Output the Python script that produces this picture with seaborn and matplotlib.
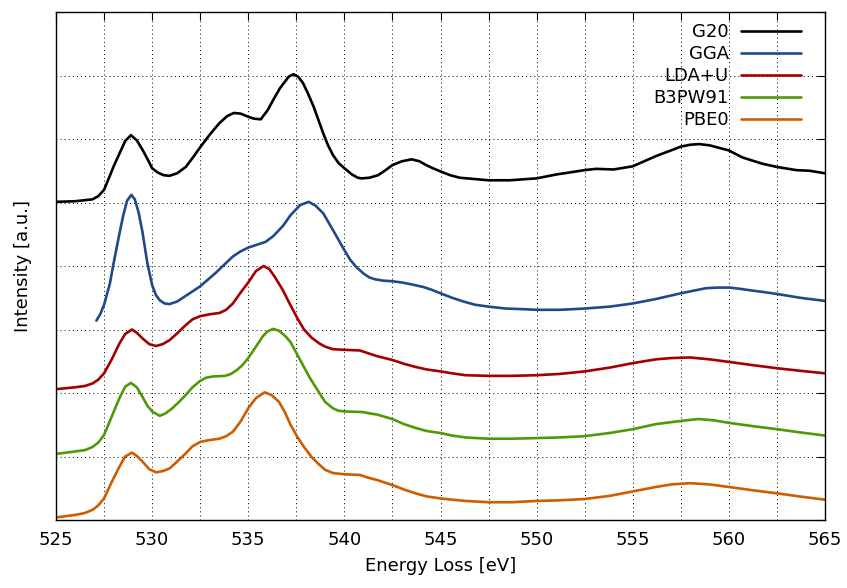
import numpy as np
import pandas as pd
import matplotlib
matplotlib.use("Agg")
import matplotlib.pyplot as plt
from matplotlib.ticker import MultipleLocator, NullFormatter
import seaborn as sns

# spectra (energy in eV, intensity in grid units, stacked)
g20_e = [525.0, 526.0, 526.9, 527.2, 527.5, 527.8, 528.0, 528.3, 528.6, 528.9, 529.2, 529.5,
         529.8, 530.0, 530.3, 530.6, 530.9, 531.3, 531.75, 532.1, 532.5, 533.0, 533.5, 533.9,
         534.25, 534.6, 535.0, 535.3, 535.65, 536.0, 536.4, 536.65, 536.9, 537.1, 537.35, 537.6,
         537.85, 538.1, 538.4, 538.9, 539.15, 539.4, 539.7, 540.0, 540.4, 540.7, 540.9, 541.3,
         541.75, 542.1, 542.5, 543.0, 543.5, 543.9, 544.25, 544.6, 545.0, 545.5, 546.0, 547.5,
         548.6, 550.0, 551.0, 552.5, 553.1, 554.0, 555.0, 556.2, 556.9, 557.5, 558.0, 558.45,
         559.0, 560.0, 560.7, 561.75, 562.5, 563.5, 564.2, 565.0]
g20_i = [5.01, 5.02, 5.05, 5.10, 5.20, 5.42, 5.57, 5.77, 5.97, 6.06, 5.98, 5.83,
         5.66, 5.54, 5.47, 5.43, 5.42, 5.46, 5.56, 5.70, 5.87, 6.07, 6.25, 6.36,
         6.41, 6.40, 6.35, 6.32, 6.31, 6.45, 6.67, 6.80, 6.90, 6.98, 7.02, 6.98,
         6.88, 6.72, 6.51, 6.09, 5.90, 5.75, 5.62, 5.54, 5.44, 5.39, 5.38, 5.39,
         5.43, 5.50, 5.59, 5.65, 5.68, 5.65, 5.59, 5.54, 5.49, 5.43, 5.39, 5.35,
         5.35, 5.38, 5.44, 5.51, 5.53, 5.52, 5.57, 5.73, 5.81, 5.88, 5.91, 5.92,
         5.90, 5.82, 5.71, 5.61, 5.56, 5.51, 5.50, 5.46]

gga_e = [527.1, 527.3, 527.5, 527.8, 528.0, 528.3, 528.5, 528.7, 528.92, 529.1, 529.3, 529.5,
         529.75, 530.0, 530.2, 530.4, 530.65, 530.9, 531.3, 531.75, 532.1, 532.5, 533.3, 533.75,
         534.2, 534.6, 535.0, 535.5, 535.9, 536.3, 536.8, 537.2, 537.7, 538.15, 538.5, 538.9,
         539.4, 539.7, 540.0, 540.3, 540.6, 541.0, 541.3, 541.6, 542.0, 542.5, 543.0, 543.5,
         544.1, 544.5, 545.0, 545.6, 546.2, 546.8, 547.5, 548.4, 549.3, 550.0, 551.2, 552.5,
         553.8, 555.0, 556.2, 557.5, 558.8, 559.4, 560.05, 560.6, 561.05, 561.8, 562.5, 563.7,
         565.0]
gga_i = [3.14, 3.24, 3.39, 3.72, 4.05, 4.51, 4.80, 5.03, 5.12, 5.05, 4.84, 4.53,
         4.05, 3.70, 3.54, 3.46, 3.41, 3.40, 3.44, 3.53, 3.60, 3.68, 3.89, 4.02,
         4.15, 4.23, 4.29, 4.34, 4.38, 4.47, 4.63, 4.80, 4.96, 5.01, 4.95, 4.83,
         4.57, 4.41, 4.25, 4.10, 3.99, 3.88, 3.82, 3.79, 3.77, 3.76, 3.74, 3.71,
         3.67, 3.63, 3.57, 3.50, 3.44, 3.39, 3.36, 3.33, 3.32, 3.31, 3.31, 3.33,
         3.36, 3.41, 3.48, 3.57, 3.65, 3.66, 3.66, 3.64, 3.62, 3.59, 3.56, 3.50,
         3.45]

lda_e = [525.0, 526.0, 526.5, 526.9, 527.2, 527.5, 527.9, 528.3, 528.6, 528.95, 529.2, 529.5,
         529.85, 530.2, 530.55, 530.9, 531.3, 531.75, 532.1, 532.5, 533.0, 533.5, 533.85, 534.2,
         534.6, 535.0, 535.4, 535.8, 536.1, 536.4, 536.8, 537.2, 537.55, 537.9, 538.3, 538.7,
         539.0, 539.4, 540.0, 540.8, 541.2, 541.7, 542.5, 543.1, 543.7, 544.3, 545.0, 545.6,
         546.3, 547.5, 548.7, 550.0, 551.2, 552.5, 553.8, 555.0, 556.2, 557.0, 557.95, 559.0,
         560.0, 561.2, 562.5, 563.7, 565.0]
lda_i = [2.06, 2.09, 2.11, 2.15, 2.21, 2.31, 2.53, 2.78, 2.93, 3.00, 2.95, 2.86,
         2.77, 2.74, 2.77, 2.83, 2.94, 3.07, 3.16, 3.21, 3.24, 3.26, 3.31, 3.41,
         3.58, 3.74, 3.92, 4.00, 3.95, 3.82, 3.62, 3.38, 3.18, 3.00, 2.87, 2.78,
         2.73, 2.69, 2.68, 2.67, 2.63, 2.58, 2.52, 2.46, 2.41, 2.37, 2.34, 2.31,
         2.28, 2.27, 2.27, 2.28, 2.30, 2.34, 2.40, 2.47, 2.53, 2.55, 2.56, 2.53,
         2.49, 2.44, 2.39, 2.35, 2.31]

b3_e = [525.0, 526.0, 526.5, 526.9, 527.2, 527.5, 527.9, 528.3, 528.6, 528.9, 529.2, 529.5,
        529.75, 530.0, 530.4, 530.7, 531.05, 531.4, 531.75, 532.1, 532.5, 532.8, 533.15, 533.8,
        534.1, 534.4, 534.7, 535.0, 535.4, 535.75, 536.0, 536.3, 536.6, 536.95, 537.2, 537.7,
        538.2, 538.7, 539.0, 539.4, 539.7, 540.0, 540.95, 541.3, 541.7, 542.5, 543.1, 543.7,
        544.3, 545.0, 545.6, 546.3, 547.5, 548.7, 550.0, 551.2, 552.5, 553.8, 555.0, 556.2,
        557.5, 558.4, 559.2, 560.0, 561.2, 562.5, 563.7, 565.0]
b3_i = [1.04, 1.08, 1.10, 1.15, 1.22, 1.34, 1.63, 1.92, 2.10, 2.16, 2.09, 1.94,
        1.80, 1.71, 1.64, 1.68, 1.76, 1.86, 1.97, 2.09, 2.19, 2.24, 2.26, 2.27,
        2.30, 2.36, 2.44, 2.55, 2.73, 2.89, 2.97, 3.01, 2.98, 2.89, 2.80, 2.52,
        2.24, 2.00, 1.86, 1.76, 1.72, 1.71, 1.70, 1.68, 1.66, 1.59, 1.51, 1.45,
        1.40, 1.37, 1.33, 1.30, 1.28, 1.28, 1.29, 1.30, 1.32, 1.37, 1.43, 1.51,
        1.56, 1.59, 1.57, 1.53, 1.48, 1.43, 1.38, 1.33]

pbe_e = [525.0, 526.0, 526.5, 526.9, 527.2, 527.5, 527.9, 528.3, 528.6, 528.95, 529.2, 529.5,
         529.85, 530.2, 530.55, 530.9, 531.3, 531.75, 532.1, 532.5, 533.0, 533.5, 533.85, 534.2,
         534.6, 535.0, 535.4, 535.85, 536.2, 536.6, 536.9, 537.2, 537.55, 537.9, 538.3, 538.7,
         539.0, 539.4, 540.0, 540.8, 541.2, 541.7, 542.5, 543.1, 543.7, 544.3, 545.0, 545.6,
         546.3, 547.5, 548.7, 550.0, 551.2, 552.5, 553.8, 555.0, 556.2, 557.0, 557.95, 559.0,
         560.0, 561.2, 562.5, 563.7, 565.0]
pbe_i = [0.04, 0.08, 0.11, 0.16, 0.23, 0.34, 0.60, 0.84, 1.00, 1.06, 1.01, 0.92,
         0.80, 0.75, 0.77, 0.81, 0.92, 1.05, 1.16, 1.23, 1.26, 1.28, 1.32, 1.39,
         1.55, 1.76, 1.92, 2.01, 1.97, 1.86, 1.70, 1.50, 1.31, 1.15, 0.99, 0.87,
         0.79, 0.74, 0.72, 0.71, 0.67, 0.63, 0.55, 0.48, 0.42, 0.37, 0.34, 0.32,
         0.30, 0.28, 0.28, 0.30, 0.31, 0.33, 0.38, 0.45, 0.52, 0.56, 0.58, 0.56,
         0.52, 0.47, 0.42, 0.37, 0.32]

labels = ["G20", "GGA", "LDA+U", "B3PW91", "PBE0"]
colors = ["#000000", "#204a87", "#a40000", "#4e9a06", "#ce5c00"]
x_ticks = [525, 530, 535, 540, 545, 550, 555, 560, 565]

series = [(g20_e, g20_i), (gga_e, gga_i), (lda_e, lda_i), (b3_e, b3_i), (pbe_e, pbe_i)]
frames = []
for lab, (e, i) in zip(labels, series):
    frames.append(pd.DataFrame({"energy": e, "intensity": i, "method": lab}))
df = pd.concat(frames, ignore_index=True)

sns.set_style("white")
plt.rcParams["font.family"] = ["DejaVu Sans"]
plt.rcParams["text.color"] = "black"
plt.rcParams["axes.labelcolor"] = "black"

fig = plt.figure(figsize=(8.47, 5.88), dpi=100)
ax = fig.add_axes([56 / 847, 68 / 588, 769 / 847, 508 / 588])

sns.lineplot(data=df, x="energy", y="intensity", hue="method", hue_order=labels,
             palette=dict(zip(labels, colors)), estimator=None, sort=True,
             linewidth=1.9, ax=ax)

ax.set_xlim(525, 565)
ax.set_ylim(0, 8)
ax.set_xticks(x_ticks)
ax.xaxis.set_minor_locator(MultipleLocator(2.5))
ax.yaxis.set_major_locator(MultipleLocator(1))
ax.yaxis.set_major_formatter(NullFormatter())
ax.tick_params(axis="both", which="both", direction="in", length=6, width=0.8,
               top=True, right=True, labelsize=13, colors="black")
ax.tick_params(axis="x", pad=8)
# gnuplot-like sparse dotted grid
dots = (0, (1, 3.2))
ax.grid(True, which="both", axis="x", color="black", linestyle=dots, linewidth=0.7)
ax.grid(True, which="major", axis="y", color="black", linestyle=dots, linewidth=0.7)
for sp in ax.spines.values():
    sp.set_color("black")
    sp.set_linewidth(1.0)

ax.set_xlabel("Energy Loss [eV]", fontsize=13, labelpad=6)
ax.set_ylabel("Intensity [a.u.]", fontsize=13, labelpad=14)

handles, labs = ax.get_legend_handles_labels()
ax.legend(handles, labs, loc="upper right", bbox_to_anchor=(0.978, 0.992),
          borderaxespad=0, frameon=False, markerfirst=False, fontsize=13,
          handlelength=3.3, handletextpad=0.7, labelspacing=0.22)

fig.savefig("out.png", dpi=100)
